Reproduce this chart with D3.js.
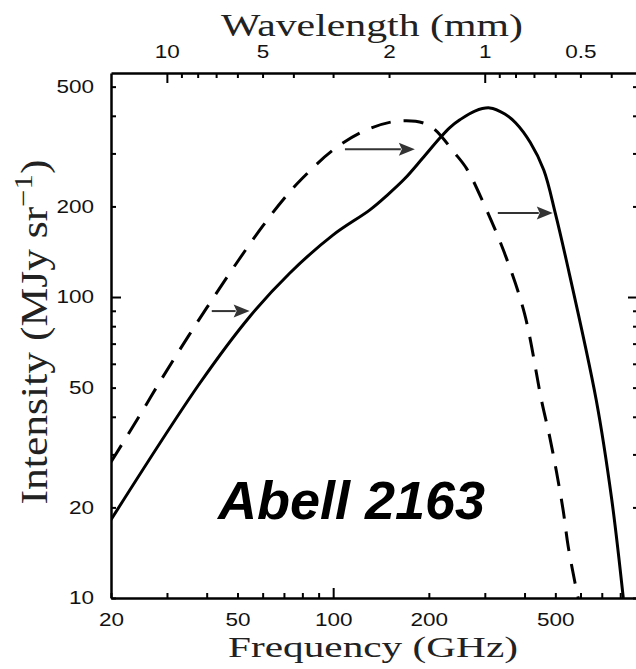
<!DOCTYPE html>
<html>
<head>
<meta charset="utf-8">
<script src="https://cdn.jsdelivr.net/npm/d3@7"></script>
<style>
  html, body { margin: 0; padding: 0; background: #fff; }
  svg { display: block; }
</style>
</head>
<body>
<svg id="chart" width="636" height="669"></svg>
<script>
// Undistorted CMB spectrum (dashed) — frequency in GHz, intensity in MJy/sr
const dashedFreq = [20, 25, 28.5, 35, 40, 50, 60, 70, 80, 100, 125, 160, 200, 241.6, 263, 296, 346, 400, 452, 480, 504, 529, 549, 577, 590];
const dashedInt  = [28.3, 41.5, 52.3, 74, 92, 131, 172, 212, 248, 308, 356, 384, 372, 300, 267, 207, 140, 88, 45.5, 34.3, 26.3, 19.6, 14.8, 11.2, 10];

// Spectrum distorted by the Sunyaev–Zel'dovich effect (solid)
const solidFreq = [20, 38.1, 54.7, 73.1, 99.8, 130.5, 148.1, 168.1, 190.8, 216.6, 232.8, 250.4, 279.1, 311, 346.8, 375.4, 417.1, 459.8, 499.8, 541.2, 672.4, 752.6, 818];
const solidInt  = [18.2, 51.8, 86.2, 120.2, 160.6, 194.8, 218.2, 247.5, 288.5, 337.5, 365.7, 387.9, 414.9, 424.9, 405.5, 378.5, 326, 264.2, 190.1, 132.7, 45.5, 21.2, 10];

// Shift arrows: start and end frequency (GHz) at a given intensity (MJy/sr)
const arrowFrom  = [41.5, 108.9, 329.6];
const arrowTo    = [54.6, 180.7, 490.8];
const arrowLevel = [89.8, 310, 190];

// Axis ticks
const freqTicks   = [20, 30, 40, 50, 60, 70, 80, 90, 100, 200, 300, 400, 500, 600, 700, 800];
const freqLabels  = [20, 50, 100, 200, 500];
const freqMajor   = [100];
const intTicks    = [10, 20, 30, 40, 50, 60, 70, 80, 90, 100, 200, 300, 400, 500];
const intLabels   = [10, 20, 50, 100, 200, 500];
const intMajor    = [100];
const waveTicks   = [10, 9, 8, 7, 6, 5, 4, 3, 2, 1, 0.9, 0.8, 0.7, 0.6, 0.5, 0.4];
const waveLabels  = [10, 5, 2, 1, 0.5];
const waveMajor   = [10, 1];

const clusterName = "Abell 2163";

const C_MM_GHZ = 299.792458; // speed of light in mm·GHz

const svg = d3.select("#chart");
const frame = { left: 111, right: 638, top: 73, bottom: 598 };

const x = d3.scaleLog().domain([20, 910]).range([frame.left, frame.right]);
const y = d3.scaleLog().domain([10, 555]).range([frame.bottom, frame.top]);
const xw = d3.scaleLog().domain([C_MM_GHZ / 20, C_MM_GHZ / 910]).range([frame.left, frame.right]);

const tickFont = "'Liberation Sans', Arial, Helvetica, sans-serif";
const titleFont = "'Liberation Serif', 'Times New Roman', serif";

function fmt(labels) {
  return d => labels.includes(d) ? String(d) : "";
}

function styleAxis(g, majors, majorLen, dir) {
  g.select(".domain").attr("stroke", "#000").attr("stroke-width", 2.5);
  g.selectAll(".tick line")
    .attr("stroke", "#000").attr("stroke-width", 2)
    .each(function(d) {
      const len = majors.includes(d) ? majorLen : 5;
      d3.select(this).attr(dir, d3.select(this).attr(dir) < 0 ? -len : len);
    });
  g.selectAll(".tick text")
    .attr("font-family", tickFont).attr("font-size", 18).attr("fill", "#111");
}

// Bottom: frequency
const gBottom = svg.append("g").attr("transform", `translate(0,${frame.bottom})`)
  .call(d3.axisBottom(x).tickValues(freqTicks).tickFormat(fmt(freqLabels))
    .tickSizeInner(-5).tickSizeOuter(0).tickPadding(15));
styleAxis(gBottom, freqMajor, 10, "y2");

// Top: wavelength
const gTop = svg.append("g").attr("transform", `translate(0,${frame.top})`)
  .call(d3.axisTop(xw).tickValues(waveTicks).tickFormat(fmt(waveLabels))
    .tickSizeInner(-5).tickSizeOuter(0).tickPadding(15));
styleAxis(gTop, waveMajor, 10, "y2");

// Left: intensity
const gLeft = svg.append("g").attr("transform", `translate(${frame.left},0)`)
  .call(d3.axisLeft(y).tickValues(intTicks).tickFormat(fmt(intLabels))
    .tickSizeInner(-5).tickSizeOuter(0).tickPadding(17));
styleAxis(gLeft, intMajor, 10, "x2");

// Right: intensity ticks only
const gRight = svg.append("g").attr("transform", `translate(${frame.right},0)`)
  .call(d3.axisRight(y).tickValues(intTicks).tickFormat("")
    .tickSizeInner(-5).tickSizeOuter(0));
styleAxis(gRight, intMajor, 10, "x2");

// Widen the tick numerals
svg.selectAll(".tick text").each(function() {
  const w = this.getComputedTextLength();
  if (w > 0) d3.select(this).attr("textLength", w * 1.25).attr("lengthAdjust", "spacingAndGlyphs");
});

// Clip curves to the plotting frame
svg.append("clipPath").attr("id", "plot-clip")
  .append("rect")
  .attr("x", frame.left).attr("y", frame.top)
  .attr("width", frame.right - frame.left).attr("height", frame.bottom - frame.top);

const line = d3.line()
  .x(d => x(d[0])).y(d => y(d[1]))
  .curve(d3.curveCatmullRom.alpha(0.5));

const curves = svg.append("g").attr("clip-path", "url(#plot-clip)");
curves.append("path")
  .datum(d3.zip(dashedFreq, dashedInt))
  .attr("d", line)
  .attr("fill", "none").attr("stroke", "#000").attr("stroke-width", 3)
  .attr("stroke-dasharray", "20,13");
curves.append("path")
  .datum(d3.zip(solidFreq, solidInt))
  .attr("d", line)
  .attr("fill", "none").attr("stroke", "#000").attr("stroke-width", 3);

// Arrows
const headLen = 16, headHalf = 6.5, arrowColor = "#333";
const arrows = svg.append("g");
arrowFrom.forEach((f0, i) => {
  const x0 = x(f0), x1 = x(arrowTo[i]), yy = y(arrowLevel[i]);
  arrows.append("line")
    .attr("x1", x0).attr("x2", x1 - headLen + 2).attr("y1", yy).attr("y2", yy)
    .attr("stroke", arrowColor).attr("stroke-width", 2);
  arrows.append("path")
    .attr("d", `M${x1},${yy}L${x1 - headLen},${yy - headHalf}L${x1 - headLen + 3},${yy}L${x1 - headLen},${yy + headHalf}Z`)
    .attr("fill", arrowColor);
});

// Stretch a text group along its reading direction to a given length
function fitText(g, text, target) {
  const w = text.node().getBBox().width;
  const base = g.attr("transform") || "";
  g.attr("transform", `${base} scale(${target / w},1)`);
}

// Axis titles
const gWave = svg.append("g").attr("transform", "translate(372,36)");
const tWave = gWave.append("text").attr("text-anchor", "middle")
  .attr("font-family", titleFont).attr("font-size", 31).attr("fill", "#222")
  .text("Wavelength (mm)");
fitText(gWave, tWave, 302);

const gFreq = svg.append("g").attr("transform", "translate(373,657)");
const tFreq = gFreq.append("text").attr("text-anchor", "middle")
  .attr("font-family", titleFont).attr("font-size", 30).attr("fill", "#222")
  .text("Frequency (GHz)");
fitText(gFreq, tFreq, 290);

const gInt = svg.append("g").attr("transform", "translate(47,332) rotate(-90)");
const tInt = gInt.append("text").attr("text-anchor", "middle")
  .attr("font-family", titleFont).attr("font-size", 37).attr("fill", "#222");
tInt.append("tspan").text("Intensity (MJy sr");
tInt.append("tspan").attr("dy", -15).attr("font-size", 26).text("\u22121");
tInt.append("tspan").attr("dy", 15).text(")");
fitText(gInt, tInt, 345);

// Cluster name
svg.append("text")
  .attr("x", x(43.4)).attr("y", y(18.3))
  .attr("font-family", "'Liberation Sans', Arial, Helvetica, sans-serif")
  .attr("font-weight", "bold").attr("font-style", "italic")
  .attr("font-size", 54).attr("fill", "#000")
  .text(clusterName);
</script>
</body>
</html>
